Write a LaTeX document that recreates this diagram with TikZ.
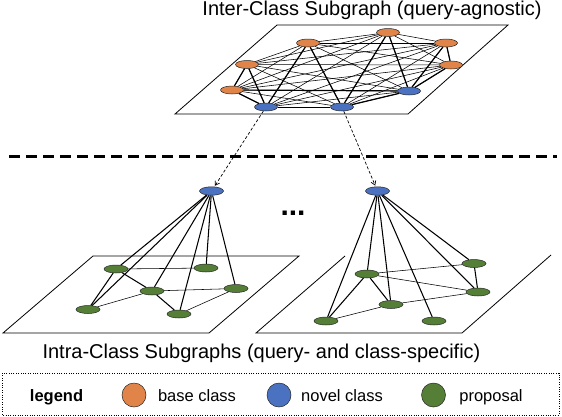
\documentclass[tikz,border=0pt]{standalone}
\usepackage{fontspec}
\setmainfont{Liberation Sans}
\usetikzlibrary{shapes.geometric,arrows.meta}
\definecolor{borange}{HTML}{E0844A}
\definecolor{nblue}{HTML}{4A72C0}
\definecolor{pgreen}{HTML}{557E37}
\begin{document}
\begin{tikzpicture}[x=1pt,y=-1pt,
  vnode/.style={ellipse, draw=black!85, line width=0.5pt, inner sep=0pt, minimum width=23pt, minimum height=8pt},
  basen/.style={vnode, fill=borange},
  noveln/.style={vnode, fill=nblue, minimum width=24pt, minimum height=8.5pt},
  propn/.style={vnode, fill=pgreen, minimum width=24pt},
  thinedge/.style={line width=0.55pt},
  thickedge/.style={line width=1.2pt},
  midedge/.style={line width=1.05pt},
  plane/.style={line width=0.8pt},
  title/.style={font=\fontsize{20}{22}\selectfont, anchor=base},
  legtext/.style={font=\fontsize{16.5}{19}\selectfont, anchor=base},
  legcirc/.style={circle, draw=black!85, line width=0.5pt, minimum size=24pt, inner sep=0pt},
  linkarrow/.style={line width=0.7pt, dash pattern=on 3pt off 2pt, -{Straight Barb[length=4pt,width=5pt]}, shorten >=1pt}
]
\useasboundingbox (0,0) rectangle (562,416);
\fill[white] (0,0) rectangle (562,416);

% titles
\node[title] (toptitle) at (372,15) {Inter-Class Subgraph (query-agnostic)};
\node[title] (bottitle) at (261.5,358) {Intra-Class Subgraphs (query- and class-specific)};

% top plane
\draw[plane, fill=white] (277,25) -- (508,25) -- (408,114) -- (175,114) -- cycle;

% top nodes
\node[basen] (t1) at (308,43) {};
\node[basen] (t2) at (388,32.5) {};
\node[basen] (t3) at (446,43) {};
\node[basen] (t4) at (451,65) {};
\node[basen] (t5) at (247,64.5) {};
\node[basen] (t6) at (232,90) {};
\node[noveln, minimum width=23pt, minimum height=8pt] (t7) at (266,107) {};
\node[noveln, minimum width=23pt, minimum height=8pt] (t8) at (342,107) {};
\node[noveln, minimum width=23pt, minimum height=8pt] (t9) at (409,91) {};

\foreach \i in {1,...,9}{
  \foreach \j in {\i,...,9}{
    \ifnum\i<\j \draw[thinedge] (t\i) -- (t\j); \fi
  }
}
\foreach \a/\b in {5/6,5/7,1/7,1/8,2/8,2/9,3/4,6/9,3/9,6/7,8/9,4/9}{
  \draw[thickedge] (t\a) -- (t\b);
}

% separator
\coordinate (sepL) at (9,156);
\coordinate (sepR) at (557,156);
\draw[line width=3pt, dash pattern=on 11pt off 6pt] (sepL) -- (sepR);

% lower planes
\draw[plane] (93,256) -- (299,256) -- (209,333) -- (3,333) -- cycle;
\draw[plane] (345,256) -- (256,333) -- (462,333) -- (551,255);

% lower-left graph
\node[noveln] (lb) at (211.5,191) {};
\node[propn] (g1) at (116,269) {};
\node[propn] (g2) at (206,268) {};
\node[propn] (g3) at (152,291) {};
\node[propn] (g4) at (236,288.5) {};
\node[propn] (g5) at (88,309.5) {};
\node[propn] (g6) at (179,314) {};
\foreach \g in {g1,g2,g3,g4,g5,g6}{ \draw[midedge] (lb) -- (\g); }
\foreach \a/\b in {g1/g3,g1/g5,g3/g6}{ \draw[midedge] (\a) -- (\b); }
\foreach \a/\b in {g1/g2,g3/g5,g3/g4,g6/g4}{ \draw[thinedge] (\a) -- (\b); }

% lower-right graph
\node[noveln] (rb) at (377.5,191) {};
\node[propn] (h1) at (367,274) {};
\node[propn] (h2) at (474,263.5) {};
\node[propn] (h3) at (478,292) {};
\node[propn] (h4) at (391,304.5) {};
\node[propn] (h5) at (326,321) {};
\node[propn] (h6) at (434,321) {};
\foreach \g in {h1,h2,h3,h4,h5,h6}{ \draw[midedge] (rb) -- (\g); }
\foreach \a/\b in {h2/h3,h1/h4,h1/h5}{ \draw[midedge] (\a) -- (\b); }
\foreach \a/\b in {h1/h2,h1/h3,h5/h4,h4/h3}{ \draw[thinedge] (\a) -- (\b); }

% links
\draw[linkarrow] (t7) -- (lb);
\draw[linkarrow] (t8) -- (rb);

% dots
\node[font=\fontsize{30}{32}\selectfont\bfseries, anchor=base] (dots) at (293,215.5) {...};

% legend
\draw[line width=0.8pt, dash pattern=on 1pt off 1.4pt] (2,373) rectangle (559,415);
\node[legtext, font=\fontsize{16.5}{19}\selectfont\bfseries] (leg) at (56.5,401) {legend};
\node[legcirc, fill=borange] (cbase) at (134,395) {};
\node[legtext] (lbase) at (197,401) {base class};
\node[legcirc, fill=nblue] (cnovel) at (279,395) {};
\node[legtext] (lnovel) at (342,401) {novel class};
\node[legcirc, fill=pgreen] (cprop) at (433.5,395) {};
\node[legtext] (lprop) at (491,401) {proposal};
\end{tikzpicture}
\end{document}
